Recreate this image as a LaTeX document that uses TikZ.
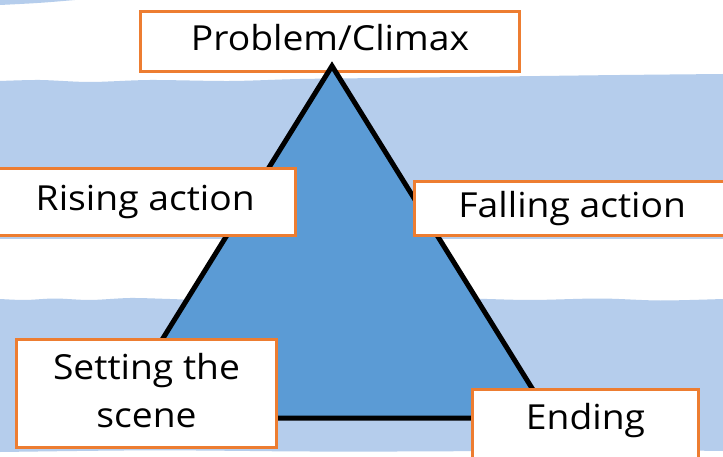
\documentclass[tikz,border=0pt]{standalone}
\usepackage{fontspec}
\setmainfont[FakeStretch=1.08]{Open Sans}
\definecolor{bgblue}{RGB}{181,205,236}
\definecolor{triblue}{RGB}{91,155,213}
\definecolor{boxorange}{RGB}{237,125,49}
\begin{document}
\begin{tikzpicture}[x=1pt,y=-1pt,
  box/.style={draw=boxorange, line width=3pt, fill=white, inner sep=0pt,
    align=center, font=\fontsize{34.5}{48}\selectfont},
  band/.style={fill=bgblue}]
\useasboundingbox (0,0) rectangle (723,457);
\clip (0,0) rectangle (723,457);
\fill[white] (0,0) rectangle (723,457);
% background bands
\fill[band] (0,0) -- (75,0) .. controls (40,3) .. (0,5) -- cycle;
\fill[band] plot[smooth] coordinates {(0,81) (40,80) (90,82) (150,80) (230,81) (300,79) (380,78) (460,77) (540,76) (620,75) (723,74)}
  -- (723,239) -- (0,239) -- cycle;
\fill[band] plot[smooth] coordinates {(0,299) (25,300) (55,298.5) (90,300) (130,298) (170,299) (220,300.5) (300,299) (380,300) (460,298.5) (530,300) (600,298.5) (660,300.5) (723,299)}
  -- (723,451) .. controls (600,449) and (400,453) .. (250,451) .. controls (150,450) .. (0,452) -- cycle;
% top box
\node[box, minimum width=379pt, minimum height=60pt] (climax) at (330,41.5) {\raisebox{8pt}{Problem/Climax}};
% triangle
\coordinate (apex) at (332,66);
\coordinate (bl) at (113.5,418);
\coordinate (br) at (550.5,418);
\draw[fill=triblue, line width=5pt, line join=miter] (apex) -- (br) -- (bl) -- cycle;
% other boxes
\node[box, minimum width=300.5pt, minimum height=67pt] (rising) at (145.25,202) {\raisebox{7pt}{Rising action}};
\node[box, minimum width=315.5pt, minimum height=54pt] (falling) at (572.25,208.5) {\raisebox{-1pt}{Falling action}};
\node[box, minimum width=260pt, minimum height=108pt] (setting) at (146.5,393.5) {\raisebox{4pt}{\begin{tabular}{@{}c@{}}Setting the\\scene\end{tabular}}};
\node[box, minimum width=226pt, minimum height=90.5pt] (ending) at (585.5,434.75) {\raisebox{37pt}{Ending}};
\end{tikzpicture}
\end{document}
